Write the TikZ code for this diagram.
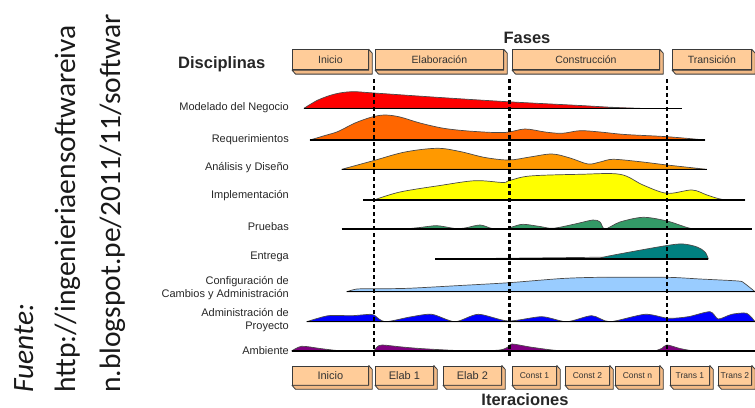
\documentclass[tikz,border=0pt]{standalone}
\usepackage{fontspec}
\setmainfont{Liberation Sans}
\newfontfamily\calibrifont{Carlito}
\definecolor{peach}{HTML}{FFCC99}
\definecolor{peachside}{HTML}{F2BA86}
\definecolor{boxline}{HTML}{3A3A3A}
\definecolor{outline}{HTML}{4A4A4A}
\definecolor{cRed}{HTML}{FF0000}
\definecolor{cReq}{HTML}{FF6600}
\definecolor{cAna}{HTML}{FF9900}
\definecolor{cImp}{HTML}{FFFF00}
\definecolor{cPru}{HTML}{339966}
\definecolor{cEnt}{HTML}{008080}
\definecolor{cCfg}{HTML}{99CCFF}
\definecolor{cAdm}{HTML}{0000FF}
\definecolor{cAmb}{HTML}{800080}
\begin{document}
\begin{tikzpicture}[x=1pt,y=-1pt,
  lbl/.style={anchor=base east, align=right, inner sep=0, text=black!85,
              font=\fontsize{11}{13}\selectfont},
  ttl/.style={inner sep=0, text=black!85, font=\bfseries\fontsize{16.5}{19}\selectfont},
  face/.style={draw=boxline, fill=peach, line width=0.8pt, anchor=north west,
               inner sep=0, text=black!80},
  phase/.style={face, minimum height=20pt, font=\fontsize{10.5}{12}\selectfont},
  iterbig/.style={face, minimum height=19pt, font=\fontsize{11}{12}\selectfont},
  itersmall/.style={face, minimum height=19pt, font=\fontsize{8.5}{10}\selectfont},
  side/.style={draw=boxline, fill=peachside, line width=0.8pt, line join=round},
  sepline/.style={line width=2.2pt, dash pattern=on 4pt off 3pt},
  band/.style={draw=outline, line width=0.7pt, line join=round},
  baseln/.style={line width=1.1pt, black},
  src/.style={rotate=90, anchor=base west, inner sep=0, text=black!90,
              font=\calibrifont\fontsize{29.5}{35}\selectfont},
]
\useasboundingbox (0,0) rectangle (755,407);

% source note, written upwards
\node[src] (srcA) at (33,393) {\itshape Fuente:};
\node[src] (srcB) at (75,393) {http://ingenieriaensoftwareiva};
\node[src] (srcC) at (120,393) {n.blogspot.pe/2011/11/softwar};

% titles
\node[ttl, anchor=base] (fases) at (527,43.3) {Fases};
\node[ttl, anchor=base west] (discip) at (178,68) {Disciplinas};
\node[ttl, anchor=base] (iter) at (525,405) {Iteraciones};

% phase boxes
\node[phase, minimum width=76pt]  (f1) at (292,49.3) {Inicio};
\node[phase, minimum width=128pt] (f2) at (375,49.3) {Elaboración};
\node[phase, minimum width=147pt] (f3) at (512,49.3) {Construcción};
\node[phase, minimum width=79pt]  (f4) at (672,49.3) {Transición};

% iteration boxes
\node[iterbig, minimum width=76pt]   (i1) at (292,365.5) {Inicio};
\node[iterbig, minimum width=58pt]   (i2) at (375,365.5) {Elab 1};
\node[iterbig, minimum width=58pt]   (i3) at (443,365.5) {Elab 2};
\node[itersmall, minimum width=44pt] (i4) at (512,365.5) {Const 1};
\node[itersmall, minimum width=44pt] (i5) at (565,365.5) {Const 2};
\node[itersmall, minimum width=44pt] (i6) at (615,365.5) {Const n};
\node[itersmall, minimum width=39pt] (i7) at (670,365.5) {Trans 1};
\node[itersmall, minimum width=33pt] (i8) at (718,365.5) {Trans 2};

% raised edge on the lower right of every box
\foreach \b in {f1,f2,f3,f4,i1,i2,i3,i4,i5,i6,i7,i8}{
  \filldraw[side] (\b.south west) -- ++(3.5,4) -- ([shift={(3.5,4)}]\b.south east)
    -- ([shift={(3.5,4)}]\b.north east) -- (\b.north east) -- (\b.south east) -- cycle;
}

% discipline labels (two-line labels sit on their last baseline)
\node[lbl] (lMod) at (289,110.5) {Modelado del Negocio};
\node[lbl] (lReq) at (289,142.3) {Requerimientos};
\node[lbl] (lAna) at (289,170.5) {Análisis y Diseño};
\node[lbl] (lImp) at (289,198.3) {Implementación};
\node[lbl] (lPru) at (289,230.5) {Pruebas};
\node[lbl] (lEnt) at (289,259) {Entrega};
\node[lbl] (lCfg) at (289,297.3) {Configuración de\\Cambios y Administración};
\node[lbl] (lAdm) at (289,329.5) {Administración de\\Proyecto};
\node[lbl] (lAmb) at (289,354.5) {Ambiente};

% Modelado del Negocio
\filldraw[band, fill=cRed] plot[smooth, tension=0.55] coordinates {
  (304,108.3) (318,100) (335,94) (352,91.7) (374,93) (440,97.5) (509,101.8)
  (580,105.5) (612,107.3) (640,108.3)} -- cycle;
\draw[baseln] (304,108.3) -- (681.7,108.3);

% Requerimientos
\filldraw[band, fill=cReq] plot[smooth, tension=0.55] coordinates {
  (310,140) (325,135.5) (338,131.5) (355,123) (372,117) (385,115) (400,117)
  (420,123) (445,128.5) (475,131.5) (505,132.5) (525,129) (545,132) (562,133.3)
  (580,130.7) (600,132) (625,134.5) (667,136.7) (705,140)} -- cycle;
\draw[baseln] (310,140) -- (705,140);

% Analisis y Diseno
\filldraw[band, fill=cAna] plot[smooth, tension=0.55] coordinates {
  (341.7,169.3) (374,160.5) (405,152) (437,148.3) (460,151.5) (485,157.5)
  (509,160) (530,157) (552,154) (570,158) (588,164) (600,162) (613,159.3)
  (640,161.7) (667,165) (706.7,169.3)} -- cycle;
\draw[baseln] (341.7,169.3) -- (706.7,169.3);

% Implementacion
\filldraw[band, fill=cImp] plot[smooth, tension=0.55] coordinates {
  (374,200) (400,192) (440,185.5) (475,180.7) (503,182.5) (509,180.7) (530,176)
  (580,174.3) (620,174.3) (643,185) (667,193.3) (692,190) (707,195) (723,199.5)
  (745,200)} -- cycle;
\draw[baseln] (363.3,200) -- (745,200);

% Pruebas
\filldraw[band, fill=cPru] plot[smooth, tension=0.5] coordinates {
  (405,229) (420,227.5) (437,225.7) (455,228.5) (465,228) (480,225) (492,228.5)
  (505,229.3) (512,227) (523,224.3) (540,226.5) (553,228.3) (575,224) (593,220)
  (600,222) (605,229) (620,222) (643,217.3) (667,221) (690,228.3) (705,229)} -- cycle;
\draw[baseln] (341.7,229) -- (751.7,229);

% Entrega
\filldraw[band, fill=cEnt] plot[smooth, tension=0.55] coordinates {
  (600,259) (603,257.2) (630,252) (667,245.5) (683,244) (697,247) (705,252)
  (708.3,259)} -- cycle;
\draw[band] (435,259) -- (603,257.2);
\draw[baseln] (435,259) -- (708.3,259);

% Configuracion de Cambios
\filldraw[band, fill=cCfg] plot[smooth, tension=0.45] coordinates {
  (346.7,291.7) (357,289) (374,288.8) (408,288.3) (460,285.5) (509,282.7)
  (562,278.5) (600,277.3) (667,277.3) (700,279) (738,281) (744,283)
  (755,291.7)} -- cycle;
\draw[baseln] (346.7,291.7) -- (755,291.7);

% Administracion de Proyecto
\filldraw[band, fill=cAdm] plot[smooth, tension=0.45] coordinates {
  (306.7,321.7) (328.3,315.7) (351.7,315.7) (370,314.3) (374,315) (385,321.7)
  (410,317) (431.7,314.3) (455,321.7) (478.3,314.3) (508.3,321) (541.7,316.7)
  (566.7,321.7) (591.7,315.7) (610,321.7) (645,314.3) (668.3,318.3)
  (688.3,316.7) (710,311.7) (718.3,319) (731.7,314.3) (746.7,313.3)
  (755,321.7)} -- cycle;
\draw[baseln] (306.7,321.7) -- (755,321.7);

% Ambiente
\filldraw[band, fill=cAmb] plot[smooth, tension=0.5] coordinates {
  (291.7,351) (301.7,346.3) (320,348.5) (335,350.3) (345,351)} -- cycle;
\filldraw[band, fill=cAmb] plot[smooth, tension=0.5] coordinates {
  (374,351) (377,347) (382,345) (400,346.8) (420,348.5) (450,350.2) (470,351)} -- cycle;
\filldraw[band, fill=cAmb] plot[smooth, tension=0.5] coordinates {
  (478,351) (500,350) (508,347) (512,344) (530,347) (552,350) (565,351)} -- cycle;
\filldraw[band, fill=cAmb] plot[smooth, tension=0.5] coordinates {
  (655,351) (662,348.3) (667,345) (680,348.5) (692,350.7) (700,351)} -- cycle;
\draw[baseln] (291.7,351) -- (755,351);

% phase boundaries
\foreach \n/\x in {1/374,2/509.5,3/667}{
  \coordinate (s\n t) at (\x,79);
  \coordinate (s\n b) at (\x,358);
  \draw[sepline] (s\n t) -- (s\n b);
}
\end{tikzpicture}
\end{document}
